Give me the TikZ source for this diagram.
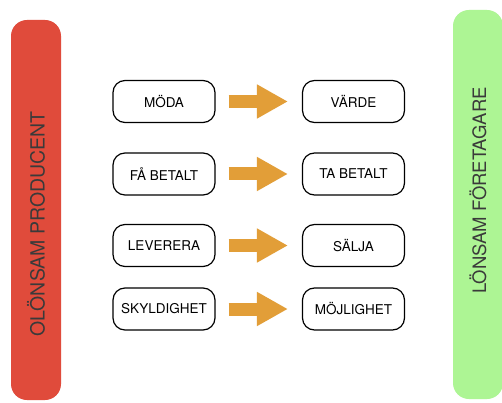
\documentclass[tikz,border=0pt]{standalone}
\usepackage{fontspec}
\setmainfont{TeX Gyre Heros}
\usetikzlibrary{arrows.meta}
\definecolor{barred}{HTML}{E04B3B}
\definecolor{bargreen}{HTML}{ADF594}
\definecolor{arrowgold}{HTML}{E29E38}
\definecolor{bartext}{HTML}{3A3A3A}
\begin{document}
\begin{tikzpicture}[x=1pt,y=-1pt,
  wordbox/.style={draw=black, line width=1.2pt, rounded corners=12pt,
    minimum width=102pt, minimum height=42pt, inner sep=0pt,
    font=\fontsize{13.5}{16}\selectfont},
  bigarrow/.style={draw=arrowgold, line width=13pt,
    -{Triangle[length=31pt,width=32pt]}, shorten <=13pt, shorten >=14pt},
  bar/.style={rounded corners=16pt, inner sep=0pt, minimum width=50pt},
  bartxt/.style={rotate=90, text=bartext}]
\useasboundingbox (0,0) rectangle (502,403);
\fill[white] (0,0) rectangle (502,403);
% bars
\node[bar, fill=barred, minimum height=380pt] (lb) at (36,210) {};
\node[bar, fill=bargreen, minimum height=389pt] (rb) at (478,204.5) {};
\node[bartxt, font=\fontsize{19.5}{22}\selectfont] (lt) at (lb.center |- 0,224) {OLÖNSAM PRODUCENT};
\node[bartxt, font=\fontsize{18.5}{22}\selectfont] (rt) at (rb.center |- 0,190.5) {LÖNSAM FÖRETAGARE};
% boxes
\node[wordbox] (a1) at (164,101.5) {MÖDA};
\node[wordbox] (b1) at (353.5,101.5) {VÄRDE};
\node[wordbox] (a2) at (164,174) {FÅ BETALT};
\node[wordbox] (b2) at (353.5,174) {TA BETALT};
\node[wordbox] (a3) at (164,245.5) {LEVERERA};
\node[wordbox] (b3) at (353.5,245.5) {SÄLJA};
\node[wordbox] (a4) at (164,309) {SKYLDIGHET};
\node[wordbox] (b4) at (353.5,309) {MÖJLIGHET};
% arrows
\draw[bigarrow] (a1) -- (b1);
\draw[bigarrow] (a2) -- (b2);
\draw[bigarrow] (a3) -- (b3);
\draw[bigarrow] (a4) -- (b4);
\end{tikzpicture}
\end{document}
